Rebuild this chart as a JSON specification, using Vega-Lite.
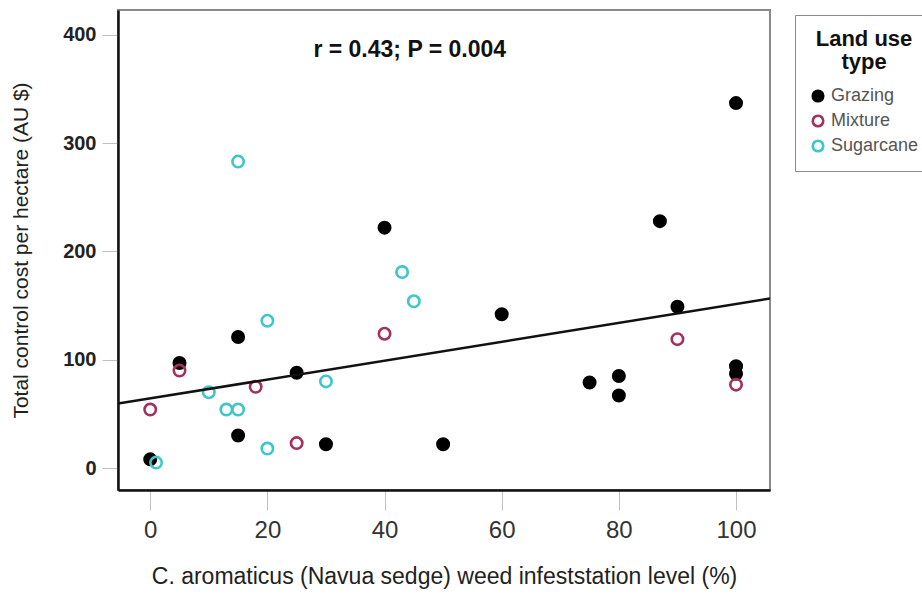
{
  "$schema": "https://vega.github.io/schema/vega-lite/v6.json",
  "width": 652,
  "height": 480,
  "autosize": {"type": "none"},
  "padding": {"left": 118, "top": 10, "right": 152, "bottom": 104},
  "background": "white",
  "config": {
    "font": "Liberation Sans",
    "view": {"stroke": "#8a8a8a", "strokeWidth": 2}
  },
  "datasets": {
    "pts": [
      {"level": 100, "cost": 337, "type": "Grazing"},
      {"level": 87, "cost": 228, "type": "Grazing"},
      {"level": 40, "cost": 222, "type": "Grazing"},
      {"level": 90, "cost": 149, "type": "Grazing"},
      {"level": 60, "cost": 142, "type": "Grazing"},
      {"level": 15, "cost": 121, "type": "Grazing"},
      {"level": 5, "cost": 97, "type": "Grazing"},
      {"level": 25, "cost": 88, "type": "Grazing"},
      {"level": 100, "cost": 94, "type": "Grazing"},
      {"level": 100, "cost": 87, "type": "Grazing"},
      {"level": 75, "cost": 79, "type": "Grazing"},
      {"level": 80, "cost": 85, "type": "Grazing"},
      {"level": 80, "cost": 67, "type": "Grazing"},
      {"level": 15, "cost": 30, "type": "Grazing"},
      {"level": 30, "cost": 22, "type": "Grazing"},
      {"level": 50, "cost": 22, "type": "Grazing"},
      {"level": 0, "cost": 8, "type": "Grazing"},
      {"level": 0, "cost": 54, "type": "Mixture"},
      {"level": 5, "cost": 90, "type": "Mixture"},
      {"level": 18, "cost": 75, "type": "Mixture"},
      {"level": 25, "cost": 23, "type": "Mixture"},
      {"level": 40, "cost": 124, "type": "Mixture"},
      {"level": 90, "cost": 119, "type": "Mixture"},
      {"level": 100, "cost": 77, "type": "Mixture"},
      {"level": 15, "cost": 283, "type": "Sugarcane"},
      {"level": 43, "cost": 181, "type": "Sugarcane"},
      {"level": 45, "cost": 154, "type": "Sugarcane"},
      {"level": 20, "cost": 136, "type": "Sugarcane"},
      {"level": 30, "cost": 80, "type": "Sugarcane"},
      {"level": 10, "cost": 70, "type": "Sugarcane"},
      {"level": 13, "cost": 54, "type": "Sugarcane"},
      {"level": 15, "cost": 54, "type": "Sugarcane"},
      {"level": 20, "cost": 18, "type": "Sugarcane"},
      {"level": 1, "cost": 5, "type": "Sugarcane"}
    ],
    "fit": [
      {"level": -5.5, "cost": 59.5},
      {"level": 105.8, "cost": 156.5}
    ],
    "note": [{"level": 44.3, "cost": 386, "label": "r = 0.43; P = 0.004"}]
  },
  "layer": [
    {
      "data": {"name": "pts"},
      "mark": {"type": "point", "shape": "circle", "size": 130, "strokeWidth": 2.6, "opacity": 1, "clip": true},
      "encoding": {
        "x": {
          "field": "level", "type": "quantitative",
          "scale": {"domain": [-5.5, 105.8], "nice": false, "zero": false},
          "axis": {
            "title": "C. aromaticus (Navua sedge) weed infeststation level (%)",
            "values": [0, 20, 40, 60, 80, 100],
            "grid": false,
            "domainColor": "#111", "domainWidth": 2.5,
            "tickColor": "#c0c0c0", "tickSize": 20, "tickWidth": 1,
            "labelFontSize": 24, "labelColor": "#333", "labelPadding": 8,
            "titleFontSize": 23, "titleFontWeight": "normal", "titleColor": "#222", "titlePadding": 23
          }
        },
        "y": {
          "field": "cost", "type": "quantitative",
          "scale": {"domain": [-20.3, 423], "nice": false, "zero": false},
          "axis": {
            "title": "Total control cost per hectare (AU $)",
            "values": [0, 100, 200, 300, 400],
            "grid": false,
            "domainColor": "#111", "domainWidth": 2.5,
            "tickColor": "#c0c0c0", "tickSize": 16, "tickWidth": 1,
            "labelFontSize": 20, "labelFontWeight": "bold", "labelColor": "#222", "labelPadding": 6,
            "titleFontSize": 21, "titleFontWeight": "normal", "titleColor": "#222", "titlePadding": 31
          }
        },
        "stroke": {
          "field": "type", "type": "nominal",
          "scale": {"domain": ["Grazing", "Mixture", "Sugarcane"], "range": ["#000000", "#a3305e", "#3fc6ca"]},
          "legend": {
            "title": ["Land use", "type"],
            "orient": "none", "legendX": 677, "legendY": 5,
            "strokeColor": "#8a8a8a", "fillColor": "white", "padding": 14,
            "titleFontSize": 22, "titleFontWeight": "bold", "titleColor": "#111",
            "titleAlign": "center", "titleAnchor": "middle", "titlePadding": 13, "titleLineHeight": 23,
            "labelFontSize": 18, "labelColor": "#555", "labelOffset": 4,
            "symbolSize": 110, "symbolStrokeWidth": 2.6, "rowPadding": 3, "symbolType": "circle"
          }
        },
        "fill": {
          "field": "type", "type": "nominal",
          "scale": {"domain": ["Grazing", "Mixture", "Sugarcane"], "range": ["#000000", "rgba(255,255,255,0)", "rgba(255,255,255,0)"]},
          "legend": {
            "title": ["Land use", "type"],
            "orient": "none", "legendX": 677, "legendY": 5,
            "strokeColor": "#8a8a8a", "fillColor": "white", "padding": 14,
            "titleFontSize": 22, "titleFontWeight": "bold", "titleColor": "#111",
            "titleAlign": "center", "titleAnchor": "middle", "titlePadding": 13, "titleLineHeight": 23,
            "labelFontSize": 18, "labelColor": "#555", "labelOffset": 4,
            "symbolSize": 110, "symbolStrokeWidth": 2.6, "rowPadding": 3, "symbolType": "circle"
          }
        }
      }
    },
    {
      "data": {"name": "fit"},
      "mark": {"type": "line", "color": "#111", "strokeWidth": 2.5, "clip": true},
      "encoding": {
        "x": {"field": "level", "type": "quantitative"},
        "y": {"field": "cost", "type": "quantitative"}
      }
    },
    {
      "data": {"name": "note"},
      "mark": {"type": "text", "fontSize": 23, "fontWeight": "bold", "color": "#111", "align": "center", "baseline": "middle"},
      "encoding": {
        "x": {"field": "level", "type": "quantitative"},
        "y": {"field": "cost", "type": "quantitative"},
        "text": {"field": "label"}
      }
    }
  ]
}
